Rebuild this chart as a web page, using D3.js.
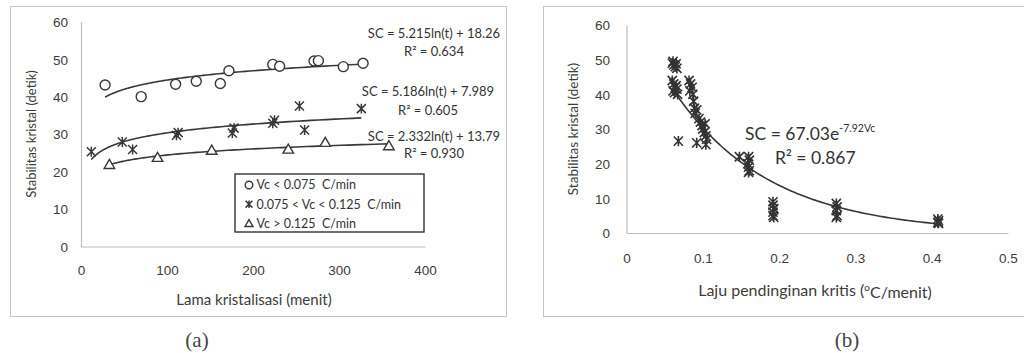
<!DOCTYPE html>
<html>
<head>
<meta charset="utf-8">
<script src="https://cdn.jsdelivr.net/npm/d3@7"></script>
<style>
  html, body { margin: 0; padding: 0; background: #fff; }
  svg { display: block; font-family: Lato, "Open Sans", sans-serif; }
  text { white-space: pre; }
</style>
</head>
<body>
<svg id="fig" width="1024" height="353"></svg>
<script>
// ---- Panel (a): crystal stability vs crystallisation time, three cooling-rate groups ----
const circleT  = [28, 70, 110, 134, 162, 172, 223, 231, 271, 276, 305, 328];
const circleSC = [43.1, 40, 43.3, 44.1, 43.5, 46.9, 48.6, 48.1, 49.5, 49.6, 48, 48.9];
const starT    = [12, 48, 60, 111, 113, 176, 178, 223, 225, 254, 260, 326];
const starSC   = [25.3, 27.9, 25.9, 29.7, 30.4, 30.3, 31.6, 32.9, 33.7, 37.5, 31.1, 36.8];
const triT     = [33, 89, 152, 241, 284, 358];
const triSC    = [21.9, 23.8, 25.7, 26.0, 27.8, 26.9];
const legendA  = ["Vc < 0.075  C/min", "0.075 < Vc < 0.125  C/min", "Vc > 0.125  C/min"];
const eqA      = ["SC = 5.215ln(t) + 18.26", "SC = 5.186ln(t) + 7.989", "SC = 2.332ln(t) + 13.79"];
const r2A      = ["R² = 0.634", "R² = 0.605", "R² = 0.930"];
const ticksAx  = [0, 100, 200, 300, 400];
const ticksY   = [0, 10, 20, 30, 40, 50, 60];

// ---- Panel (b): crystal stability vs critical cooling rate ----
const rateVc = [0.060, 0.062, 0.064, 0.066, 0.061, 0.065,
                0.060, 0.062, 0.064, 0.066, 0.061, 0.063, 0.065, 0.067, 0.068,
                0.082, 0.084, 0.086, 0.083, 0.087, 0.088, 0.089, 0.090, 0.092,
                0.095, 0.097, 0.099, 0.100, 0.102, 0.104, 0.103, 0.105, 0.092, 0.104,
                0.148, 0.160, 0.161, 0.159, 0.160, 0.161, 0.160,
                0.192, 0.192, 0.193, 0.192, 0.192, 0.193,
                0.275, 0.276, 0.275, 0.276, 0.275,
                0.408, 0.409, 0.408, 0.409];
const rateSC = [49, 48.5, 48, 47.5, 49.5, 48.8,
                44, 43, 42, 41.5, 41, 40.5, 42.5, 40, 26.5,
                44, 43, 42, 41, 40, 38, 36, 34.5, 35.5,
                33, 32, 31, 30, 29, 28, 31.5, 27, 26, 25.5,
                22, 22, 21, 20, 19, 18, 17.5,
                9, 8, 7, 6, 5, 4.5,
                8.5, 7.5, 6.5, 5, 4.5,
                4, 3.5, 3, 2.8];
const expA = 67.03, expK = -7.92;
const ticksBx = [0, 0.1, 0.2, 0.3, 0.4, 0.5];

const svg = d3.select("#fig");
const ink = "#383838", axisGrey = "#bdbdbd", textGrey = "#3c3c3c";

// star marker: an X crossed by a vertical stroke
function starPath(cx, cy, s) {
  return `M${cx - s},${cy - s}L${cx + s},${cy + s}M${cx - s},${cy + s}L${cx + s},${cy - s}` +
         `M${cx},${cy - s * 1.1}L${cx},${cy + s * 1.1}`;
}
function triPath(cx, cy, s) {
  return `M${cx},${cy - s}L${cx + s * 1.05},${cy + s * 0.8}L${cx - s * 1.05},${cy + s * 0.8}Z`;
}

// least-squares logarithmic trend  y = a ln(x) + b
function logFit(xs, ys) {
  const lx = xs.map(Math.log), n = xs.length;
  const mx = d3.mean(lx), my = d3.mean(ys);
  let sxy = 0, sxx = 0;
  for (let i = 0; i < n; i++) { sxy += (lx[i] - mx) * (ys[i] - my); sxx += (lx[i] - mx) ** 2; }
  const a = sxy / sxx;
  return { a, b: my - a * mx };
}

function styleAxis(g) {
  g.select(".domain").attr("stroke", axisGrey).attr("stroke-width", 1.2);
  g.selectAll(".tick line").remove();
  g.selectAll(".tick text").attr("fill", textGrey).attr("font-size", 13.5);
}

// ================= Panel (a) =================
svg.append("rect").attr("x", 10.5).attr("y", 6.5).attr("width", 496).attr("height", 310)
  .attr("fill", "#fff").attr("stroke", "#c4c4c4").attr("stroke-width", 1);

const xA = d3.scaleLinear().domain([0, 400]).range([81, 425]);
const yA = d3.scaleLinear().domain([0, 60]).range([246.5, 21.7]);

const gAy = svg.append("g").attr("transform", `translate(${xA(0)},0)`)
  .call(d3.axisLeft(yA).tickValues(ticksY).tickSize(0).tickPadding(13)).call(styleAxis);
gAy.selectAll(".tick text").attr("dy", "0.36em");
const gAx = svg.append("g").attr("transform", `translate(0,${yA(0)})`)
  .call(d3.axisBottom(xA).tickValues(ticksAx).tickSize(0)).call(styleAxis);
gAx.selectAll(".tick text").attr("y", 23.5).attr("dy", "0.36em");

svg.append("text").attr("transform", `translate(31,134) rotate(-90)`)
  .attr("text-anchor", "middle").attr("dy", "0.35em").attr("font-size", 13).attr("fill", textGrey)
  .text("Stabilitas kristal (detik)");
svg.append("text").attr("x", 254).attr("y", 300).attr("dy", "0.35em")
  .attr("text-anchor", "middle").attr("font-size", 15).attr("fill", textGrey)
  .text("Lama kristalisasi (menit)");

const seriesA = [
  { t: circleT, sc: circleSC, kind: "circle" },
  { t: starT, sc: starSC, kind: "star" },
  { t: triT, sc: triSC, kind: "tri" }
];

seriesA.forEach(s => {
  const fit = logFit(s.t, s.sc);
  const [t0, t1] = d3.extent(s.t);
  const pts = d3.range(0, 101).map(i => t0 * Math.pow(t1 / t0, i / 100));
  svg.append("path")
    .attr("d", d3.line().x(t => xA(t)).y(t => yA(fit.a * Math.log(t) + fit.b))(pts))
    .attr("fill", "none").attr("stroke", ink).attr("stroke-width", 1.6);
});

function drawMarker(g, kind, cx, cy, s) {
  if (kind === "circle") {
    g.append("circle").attr("cx", cx).attr("cy", cy).attr("r", s)
      .attr("fill", "#fff").attr("stroke", ink).attr("stroke-width", 1.4);
  } else if (kind === "star") {
    g.append("path").attr("d", starPath(cx, cy, s * 0.9))
      .attr("fill", "none").attr("stroke", ink).attr("stroke-width", 1.5);
  } else {
    g.append("path").attr("d", triPath(cx, cy, s))
      .attr("fill", "#fff").attr("stroke", ink).attr("stroke-width", 1.4);
  }
}

const gPtsA = svg.append("g");
seriesA.forEach(s => {
  s.t.forEach((t, i) => drawMarker(gPtsA, s.kind, xA(t), yA(s.sc[i]), 5));
});

// trend equations
const eqPos = [[434, 33, 51.7], [428, 91.7, 110], [434, 136.7, 153.3]];
eqA.forEach((e, i) => {
  svg.append("text").attr("x", eqPos[i][0]).attr("y", eqPos[i][1]).attr("dy", "0.35em")
    .attr("text-anchor", "middle").attr("font-size", 13).attr("fill", "#333").text(e);
  svg.append("text").attr("x", eqPos[i][0]).attr("y", eqPos[i][2]).attr("dy", "0.35em")
    .attr("text-anchor", "middle").attr("font-size", 13).attr("fill", "#333").text(r2A[i]);
});

// legend
svg.append("rect").attr("x", 235).attr("y", 174).attr("width", 189).attr("height", 58)
  .attr("fill", "#fff").attr("stroke", "#333").attr("stroke-width", 1.4);
const legKinds = ["circle", "star", "tri"];
legendA.forEach((l, i) => {
  const cy = 185 + i * 19.2;
  drawMarker(svg, legKinds[i], 249, cy, 3.8);
  svg.append("text").attr("x", 256.5).attr("y", cy).attr("dy", "0.35em")
    .attr("font-size", 12.5).attr("fill", "#333").text(l);
});

svg.append("text").attr("x", 197).attr("y", 340).attr("dy", "0.35em").attr("text-anchor", "middle")
  .attr("font-family", "'Liberation Serif', serif").attr("font-size", 21).attr("fill", "#444").text("(a)");

// ================= Panel (b) =================
svg.append("rect").attr("x", 543.5).attr("y", 6.5).attr("width", 490).attr("height", 310)
  .attr("fill", "#fff").attr("stroke", "#c4c4c4").attr("stroke-width", 1);

const xB = d3.scaleLinear().domain([0, 0.5]).range([626.5, 1008]);
const yB = d3.scaleLinear().domain([0, 60]).range([233, 25]);

const gBy = svg.append("g").attr("transform", `translate(${xB(0)},0)`)
  .call(d3.axisLeft(yB).tickValues(ticksY).tickSize(0).tickPadding(16.5)).call(styleAxis);
gBy.selectAll(".tick text").attr("dy", "0.36em");
const gBx = svg.append("g").attr("transform", `translate(0,${yB(0)})`)
  .call(d3.axisBottom(xB).tickValues(ticksBx).tickSize(0).tickFormat(d3.format("~g"))).call(styleAxis);
gBx.selectAll(".tick text").attr("y", 25).attr("dy", "0.36em");

svg.append("text").attr("transform", `translate(573,129) rotate(-90)`)
  .attr("text-anchor", "middle").attr("dy", "0.35em").attr("font-size", 13.5).attr("fill", textGrey)
  .text("Stabilitas kristal (detik)");
const xtB = svg.append("text").attr("x", 815).attr("y", 290).attr("dy", "0.35em")
  .attr("text-anchor", "middle").attr("font-size", 16).attr("fill", textGrey);
xtB.append("tspan").text("Laju pendinginan kritis (");
xtB.append("tspan").attr("font-size", 10).attr("dy", "-0.45em").text("o");
xtB.append("tspan").attr("dy", "0.45em").text("C/menit)");

// exponential trend
const vcs = d3.range(0, 101).map(i => 0.063 + (0.41 - 0.063) * i / 100);
svg.append("path")
  .attr("d", d3.line().x(v => xB(v)).y(v => yB(expA * Math.exp(expK * v)))(vcs))
  .attr("fill", "none").attr("stroke", ink).attr("stroke-width", 1.6);

const gPtsB = svg.append("g");
rateVc.forEach((v, i) => {
  gPtsB.append("path").attr("d", starPath(xB(v), yB(rateSC[i]), 4.6))
    .attr("fill", "none").attr("stroke", "#333").attr("stroke-width", 1.6);
});

const eqB = svg.append("text").attr("x", 745).attr("y", 133.5).attr("dy", "0.35em")
  .attr("font-size", 17.5).attr("fill", "#333");
eqB.append("tspan").text(`SC = ${expA.toFixed(2)}e`);
eqB.append("tspan").attr("font-size", 10.5).attr("dy", "-0.75em").text(`${expK.toFixed(2)}Vc`);
svg.append("text").attr("x", 775).attr("y", 158.3).attr("dy", "0.35em")
  .attr("font-size", 17.5).attr("fill", "#333").text("R² = 0.867");

svg.append("text").attr("x", 847).attr("y", 340).attr("dy", "0.35em").attr("text-anchor", "middle")
  .attr("font-family", "'Liberation Serif', serif").attr("font-size", 21).attr("fill", "#444").text("(b)");
</script>
</body>
</html>
